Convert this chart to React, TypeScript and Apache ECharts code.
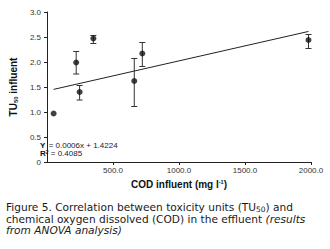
import React, { useEffect, useRef } from "react";
import * as echarts from "echarts";

const codValues = [50, 221, 247, 351, 661, 722, 1981];
const tuMeans = [0.97, 1.99, 1.4, 2.47, 1.62, 2.17, 2.44];
const tuLow = [0.97, 1.76, 1.24, 2.37, 1.11, 1.91, 2.27];
const tuHigh = [0.97, 2.21, 1.53, 2.53, 2.07, 2.39, 2.55];
const slope = [0.0006];
const intercept = [1.4224];
const rSquared = ["0.4085"];
const xTicks = [0, 500, 1000, 1500, 2000];
const yTicks = [0, 0.5, 1, 1.5, 2, 2.5, 3];

const FONT = "'Liberation Sans', Arial, sans-serif";
const CAP = "'DejaVu Sans', Verdana, sans-serif";

export default function App() {
  const ref = useRef<HTMLDivElement>(null);
  useEffect(() => {
    if (!ref.current) return;
    const chart = echarts.init(ref.current, null, { renderer: "svg" });
    const xMin = Math.min(...codValues);
    const xMax = Math.max(...codValues);
    const lineData = [
      [xMin, slope[0] * xMin + intercept[0]],
      [xMax, slope[0] * xMax + intercept[0]],
    ];
    const errData = codValues.map((x, i) => [x, tuLow[i], tuHigh[i]]);
    chart.setOption({
      animation: false,
      grid: { left: 33, right: 19, top: 12, bottom: 87 },
      xAxis: {
        type: "value",
        min: xTicks[0],
        max: xTicks[xTicks.length - 1],
        interval: 500,
        splitLine: { show: false },
        axisLine: { lineStyle: { color: "#222", width: 1 } },
        axisTick: { length: 3, lineStyle: { color: "#222" } },
        axisLabel: {
          showMinLabel: false,
          margin: 4,
          fontSize: 8,
          fontFamily: FONT,
          color: "#333",
          formatter: (v: number) => v.toFixed(1),
        },
        name: "{b|COD influent (mg l}{s|-1}{b|)}",
        nameLocation: "middle",
        nameGap: 12,
        nameTextStyle: {
          rich: {
            b: { fontSize: 10, fontWeight: "bold", fontFamily: FONT, color: "#111" },
            s: { fontSize: 5.5, fontWeight: "bold", fontFamily: FONT, color: "#111", padding: [0, 0, 5, 0] },
          },
        },
      },
      yAxis: {
        type: "value",
        min: yTicks[0],
        max: yTicks[yTicks.length - 1],
        interval: 0.5,
        splitLine: { show: false },
        axisLine: { show: true, lineStyle: { color: "#222", width: 1 } },
        axisTick: { show: true, length: 3, lineStyle: { color: "#222" } },
        axisLabel: {
          margin: 6,
          fontSize: 8,
          fontFamily: FONT,
          color: "#333",
          formatter: (v: number) => (v === 0 ? "0" : v.toFixed(1)),
        },
        name: "{b|TU}{s|50}{b| influent}",
        nameLocation: "middle",
        nameGap: 15,
        nameTextStyle: {
          rich: {
            b: { fontSize: 10, fontWeight: "bold", fontFamily: FONT, color: "#111" },
            s: { fontSize: 6, fontWeight: "bold", fontFamily: FONT, color: "#111", padding: [6, 0, 0, 0] },
          },
        },
      },
      graphic: [
        {
          type: "text",
          left: 40,
          top: 139,
          style: {
            text: "{b|Y} {n|= " + slope[0].toFixed(4) + "x + " + intercept[0].toFixed(4) + "}",
            rich: {
              b: { fontSize: 8, fontWeight: "bold", fontFamily: FONT, fill: "#111" },
              n: { fontSize: 8, fontFamily: FONT, fill: "#222" },
            },
          },
        },
        {
          type: "text",
          left: 40,
          top: 149,
          style: {
            text: "{b|R}{s|2}{n| = " + rSquared[0] + "}",
            rich: {
              b: { fontSize: 8, fontWeight: "bold", fontFamily: FONT, fill: "#111" },
              s: { fontSize: 5, fontWeight: "bold", fontFamily: FONT, fill: "#111", padding: [0, 0, 3, 0] },
              n: { fontSize: 8, fontFamily: FONT, fill: "#222" },
            },
          },
        },
        {
          type: "text",
          left: 6,
          top: 201,
          style: {
            text:
              "{n|Figure 5. Correlation between toxicity units (TU}{s|50}{n|) and}\n" +
              "{n|chemical oxygen dissolved (COD) in the effluent }{i|(results}\n" +
              "{i|from ANOVA analysis)}",
            rich: {
              n: { fontSize: 10.6, fontFamily: CAP, fill: "#1a1a1a", lineHeight: 11 },
              i: { fontSize: 10.6, fontFamily: CAP, fontStyle: "italic", fill: "#1a1a1a", lineHeight: 11 },
              s: { fontSize: 7.5, fontFamily: CAP, fill: "#1a1a1a", height: 7, padding: [6, 0, 0, 0] },
            },
          },
        },
      ],
      series: [
        {
          type: "line",
          data: lineData,
          symbol: "none",
          lineStyle: { color: "#222", width: 1 },
          z: 2,
        },
        {
          type: "custom",
          data: errData,
          z: 3,
          renderItem: (params: any, api: any) => {
            const x = api.value(0);
            const lo = api.coord([x, api.value(1)]);
            const hi = api.coord([x, api.value(2)]);
            if (Math.abs(lo[1] - hi[1]) < 0.5) return { type: "group", children: [] };
            const w = 3;
            const style = { stroke: "#333", lineWidth: 1 };
            return {
              type: "group",
              children: [
                { type: "line", shape: { x1: lo[0], y1: lo[1], x2: hi[0], y2: hi[1] }, style },
                { type: "line", shape: { x1: hi[0] - w, y1: hi[1], x2: hi[0] + w, y2: hi[1] }, style },
                { type: "line", shape: { x1: lo[0] - w, y1: lo[1], x2: lo[0] + w, y2: lo[1] }, style },
              ],
            };
          },
        },
        {
          type: "scatter",
          data: codValues.map((x, i) => [x, tuMeans[i]]),
          symbol: "circle",
          symbolSize: 6,
          itemStyle: { color: "#111" },
          z: 4,
        },
      ],
    });
    return () => chart.dispose();
  }, []);
  return (
    <div
      ref={ref}
      style={{ position: "fixed", left: 0, top: 0, width: 330, height: 249, background: "#fff" }}
    />
  );
}
